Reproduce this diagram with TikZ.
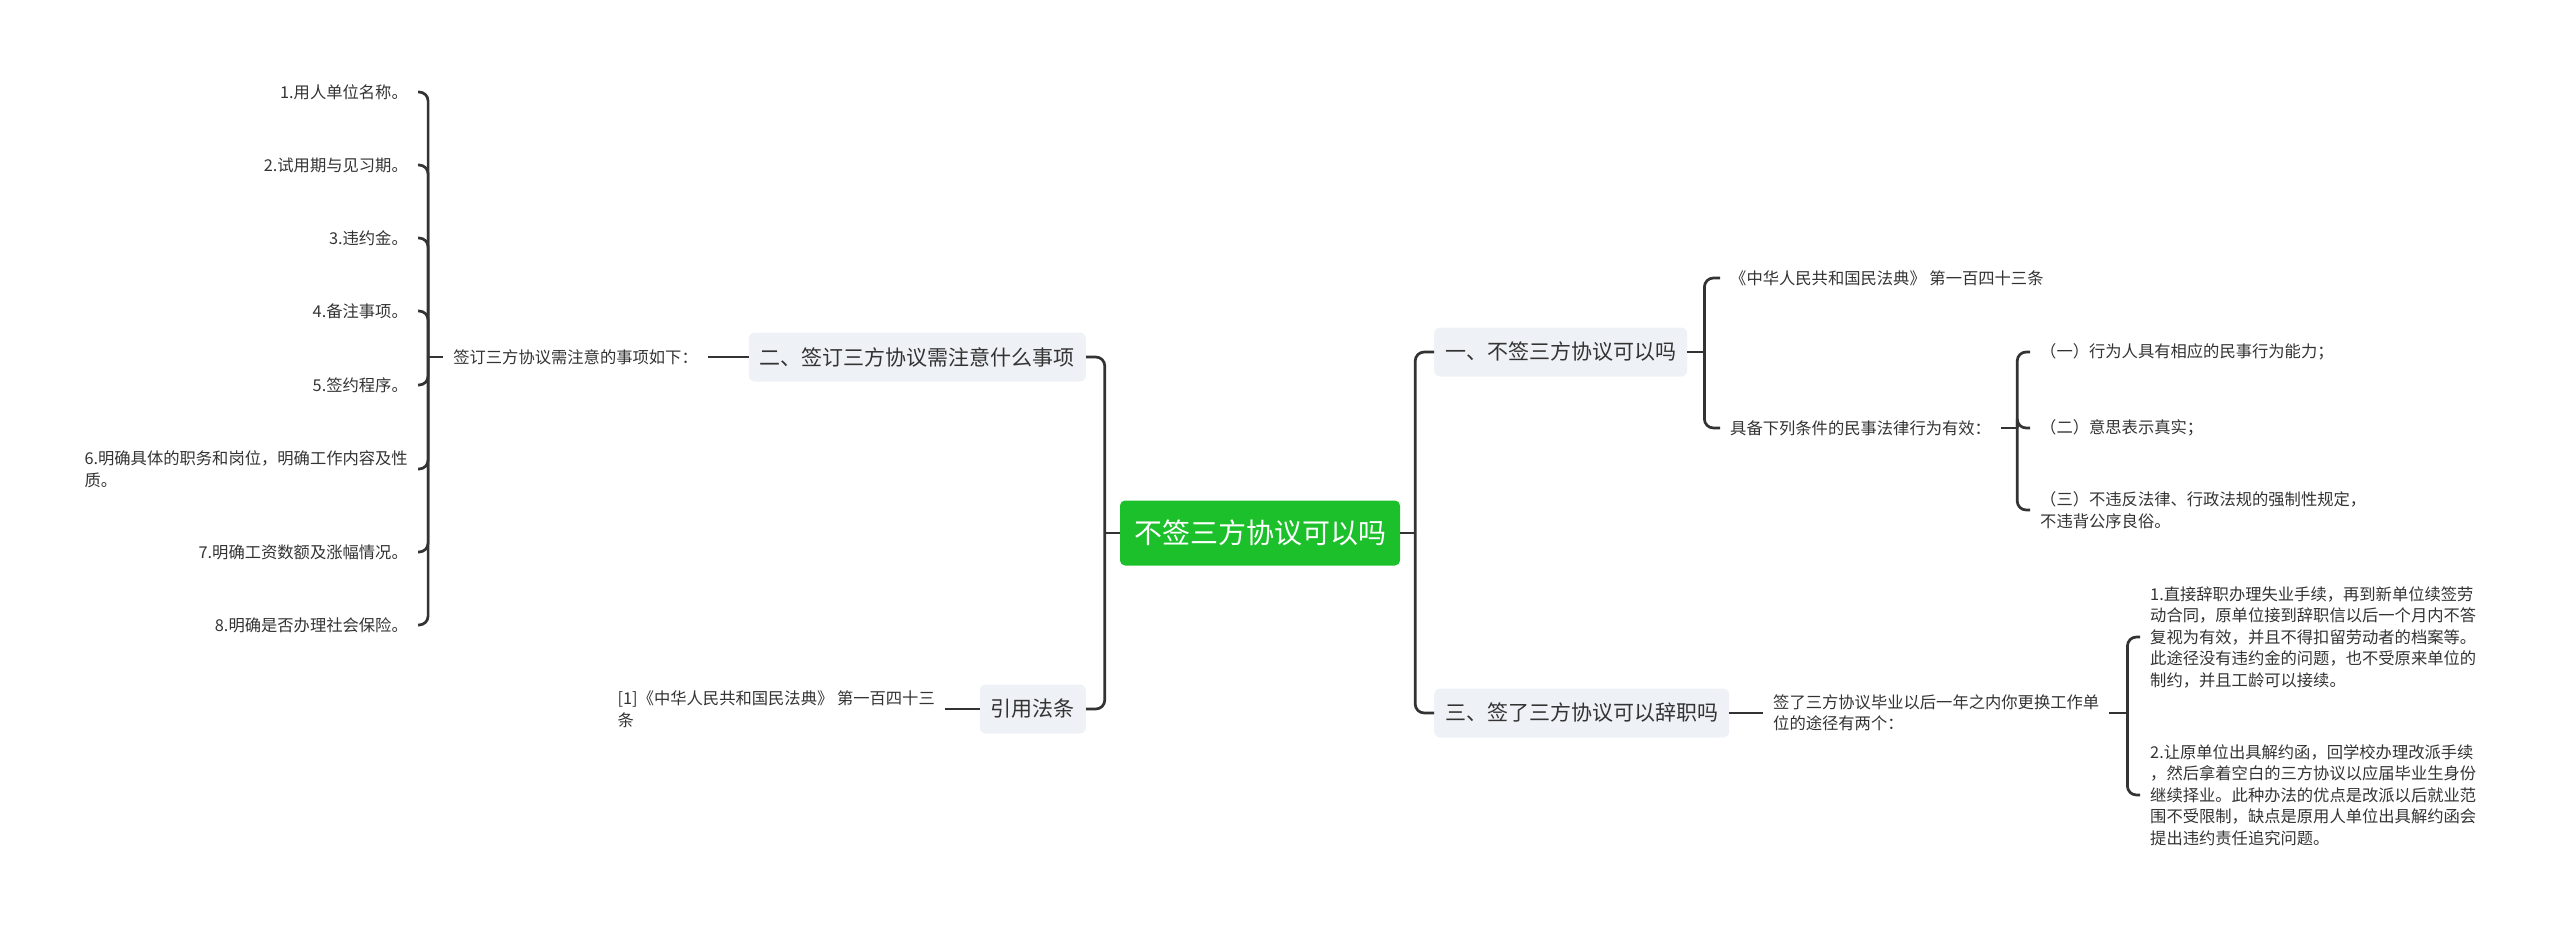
\documentclass[tikz,border=0pt]{standalone}
\usepackage{fontspec}
\setmainfont{Noto Sans CJK SC}
\usepackage{xcolor}
\usetikzlibrary{positioning,calc}

\definecolor{rootgreen}{HTML}{1CC02A}
\definecolor{topicgray}{HTML}{EEF1F5}
\definecolor{inkgray}{HTML}{333333}

\tikzset{
  rootbox/.style={fill=rootgreen, rounded corners=5pt, text=white, inner xsep=14pt,
    minimum height=65pt, font=\fontsize{28}{34}\selectfont},
  topicbox/.style={fill=topicgray, rounded corners=6pt, text=inkgray, inner xsep=11pt,
    minimum height=49pt, font=\fontsize{21}{26}\selectfont},
  leaf/.style={text=inkgray, inner xsep=10pt, inner ysep=2pt, align=left,
    font=\fontsize{16.3}{21.5}\selectfont},
  link/.style={draw=inkgray, line width=2.7pt, rounded corners=9pt}
}

\begin{document}
\begin{tikzpicture}[x=1pt, y=-1pt]
\useasboundingbox (0,0) rectangle (2560,926);

% centre
\node[rootbox] (root) at (1260,533) {不签三方协议可以吗};

% main topics
\node[topicbox, anchor=east] (t2) at (1086,357) {二、签订三方协议需注意什么事项};
\node[topicbox, anchor=east] (tref) at (1086,709) {引用法条};
\node[topicbox, anchor=west] (t1) at (1434,352) {一、不签三方协议可以吗};
\node[topicbox, anchor=west] (t3) at (1434,713) {三、签了三方协议可以辞职吗};

% left branch texts
\node[leaf, anchor=east] (notes) at (708,357) {签订三方协议需注意的事项如下：};
\node[leaf, anchor=east] (n1) at (418,92) {1.用人单位名称。};
\node[leaf, anchor=east] (n2) at (418,165) {2.试用期与见习期。};
\node[leaf, anchor=east] (n3) at (418,238) {3.违约金。};
\node[leaf, anchor=east] (n4) at (418,311) {4.备注事项。};
\node[leaf, anchor=east] (n5) at (418,385) {5.签约程序。};
\node[leaf, anchor=east] (n6) at (418,469) {6.明确具体的职务和岗位，明确工作内容及性\\质。};
\node[leaf, anchor=east] (n7) at (418,552) {7.明确工资数额及涨幅情况。};
\node[leaf, anchor=east] (n8) at (418,625) {8.明确是否办理社会保险。};
\node[leaf, anchor=east] (ref1) at (945,709) {[1]《中华人民共和国民法典》 第一百四十三\\条};

% right branch texts
\node[leaf, anchor=west] (law1) at (1720,278) {《中华人民共和国民法典》 第一百四十三条};
\node[leaf, anchor=west] (cond) at (1720,428) {具备下列条件的民事法律行为有效：};
\node[leaf, anchor=west] (c1) at (2030,352) {（一）行为人具有相应的民事行为能力；};
\node[leaf, anchor=west] (c2) at (2030,428) {（二）意思表示真实；};
\node[leaf, anchor=west] (c3) at (2030,510) {（三）不违反法律、行政法规的强制性规定，\\不违背公序良俗。};
\node[leaf, anchor=west] (way) at (1763,713) {签了三方协议毕业以后一年之内你更换工作单\\位的途径有两个：};
\node[leaf, anchor=west] (w1) at (2140,637) {1.直接辞职办理失业手续，再到新单位续签劳\\动合同，原单位接到辞职信以后一个月内不答\\复视为有效，并且不得扣留劳动者的档案等。\\此途径没有违约金的问题，也不受原来单位的\\制约，并且工龄可以接续。};
\node[leaf, anchor=west] (w2) at (2140,795) {2.让原单位出具解约函，回学校办理改派手续\\，然后拿着空白的三方协议以应届毕业生身份\\继续择业。此种办法的优点是改派以后就业范\\围不受限制，缺点是原用人单位出具解约函会\\提出违约责任追究问题。};

% junctions
\coordinate (jl) at ($(root.west)+(-15,0)$);
\coordinate (jr) at ($(root.east)+(15,0)$);
\coordinate (jn) at ($(notes.west)+(-15,0)$);
\coordinate (j1) at ($(t1.east)+(17,0)$);
\coordinate (jc) at ($(cond.east)+(16,0)$);
\coordinate (jw) at ($(way.east)+(18,0)$);

% connectors
\draw[link] (root.west) -- (jl);
\foreach \c in {t2,tref} \draw[link] (jl) |- (\c.east);
\draw[link] (root.east) -- (jr);
\foreach \c in {t1,t3} \draw[link] (jr) |- (\c.west);

\draw[link] (t2.west) -- (notes.east);
\draw[link] (notes.west) -- (jn);
\foreach \c in {n1,n2,n3,n4,n5,n6,n7,n8} \draw[link] (jn) |- (\c.east);
\draw[link] (tref.west) -- (ref1.east);

\draw[link] (t1.east) -- (j1);
\foreach \c in {law1,cond} \draw[link] (j1) |- (\c.west);
\draw[link] (cond.east) -- (jc);
\foreach \c in {c1,c2,c3} \draw[link] (jc) |- (\c.west);
\draw[link] (t3.east) -- (way.west);
\draw[link] (way.east) -- (jw);
\foreach \c in {w1,w2} \draw[link] (jw) |- (\c.west);
\end{tikzpicture}
\end{document}
